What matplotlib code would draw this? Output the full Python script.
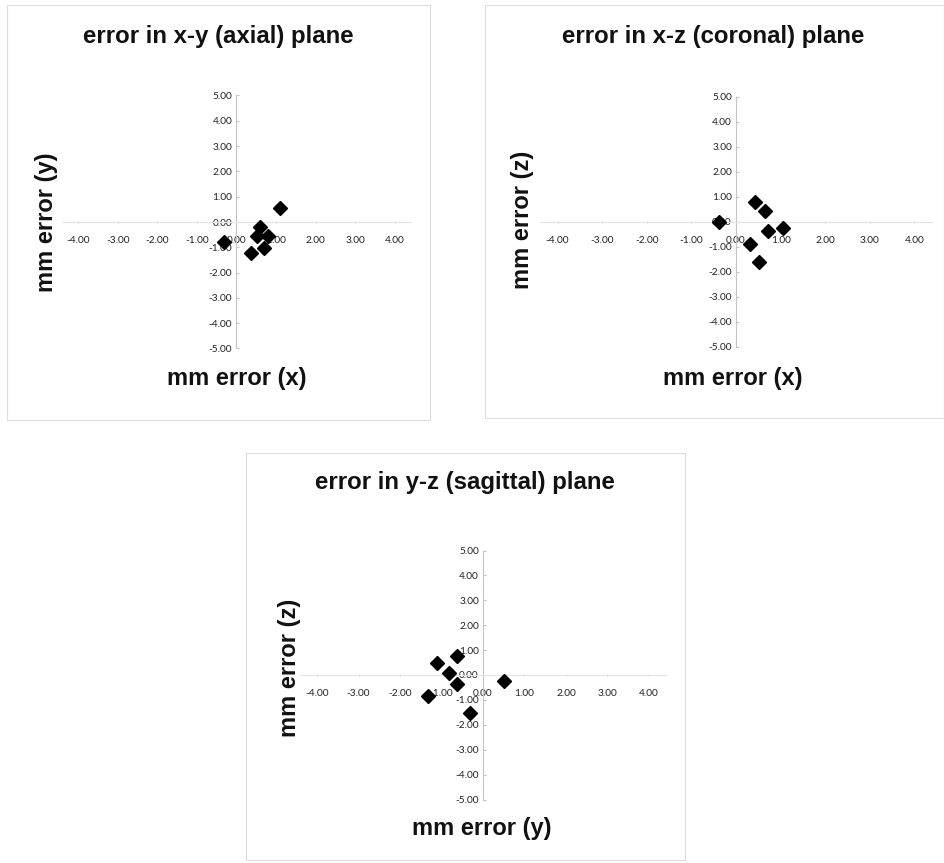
import matplotlib
matplotlib.use("Agg")
import matplotlib.pyplot as plt
from matplotlib.patches import Rectangle

# ---- data (mm errors) ----
axial_x = [1.10, 0.59, 0.51, 0.80, 0.69, 0.37, -0.32]
axial_y = [0.57, -0.19, -0.55, -0.55, -1.04, -1.24, -0.78]

coronal_x = [-0.37, 0.43, 0.65, 0.72, 1.05, 0.31, 0.52]
coronal_z = [0.00, 0.78, 0.43, -0.36, -0.25, -0.90, -1.60]

sagittal_y = [-1.12, -0.63, -0.81, -0.63, -1.33, -0.31, 0.51]
sagittal_z = [0.49, 0.76, 0.07, -0.36, -0.84, -1.54, -0.23]

x_ticks = [-4, -3, -2, -1, 0, 1, 2, 3, 4]
y_ticks = [-5, -4, -3, -2, -1, 0, 1, 2, 3, 4, 5]

titles = ["error in x-y (axial) plane", "error in x-z (coronal) plane",
          "error in y-z (sagittal) plane"]
xlabels = ["mm error (x)", "mm error (x)", "mm error (y)"]
ylabels = ["mm error (y)", "mm error (z)", "mm error (z)"]

W, H = 945, 863
fig = plt.figure(figsize=(W / 100, H / 100), dpi=100)
fig.patch.set_facecolor("white")


def fx(px):
    return px / W


def fy(py):
    return 1 - py / H


# panel boxes (left, top, right, bottom) in pixels
boxes = [(7, 5, 430, 420), (485, 5, 944, 418), (246, 453, 685, 860)]
for (l, t, r, b) in boxes:
    fig.patches.append(Rectangle((fx(l), fy(b)), fx(r - l), (b - t) / H,
                                 transform=fig.transFigure, fill=False,
                                 edgecolor="#dcdcdc", linewidth=0.8))

# axes rectangles in pixels: (x0 px, px per unit, y0 px, px per unit)
geoms = [(236.5, 39.6, 222.0, 25.3), (736.0, 44.6, 221.7, 25.0),
         (483.0, 41.5, 675.0, 24.9)]
XL = 4.4
datasets = [(axial_x, axial_y), (coronal_x, coronal_z), (sagittal_y, sagittal_z)]
title_pos = [(218, 37), (713, 37), (465, 483)]
xlabel_pos = [(237, 378), (733, 378), (482, 828)]
ylabel_pos = [(47, 222), (523, 220), (290, 668)]

for i, ((xs, ys), (x0, sx, y0, sy)) in enumerate(zip(datasets, geoms)):
    left = x0 - XL * sx
    right = x0 + XL * sx
    top = y0 - 5 * sy
    bottom = y0 + 5 * sy
    ax = fig.add_axes([fx(left), fy(bottom), (right - left) / W, (bottom - top) / H])
    ax.set_xlim(-XL, XL)
    ax.set_ylim(-5, 5)
    ax.set_facecolor("none")
    for s in ["top", "right"]:
        ax.spines[s].set_visible(False)
    ax.spines["left"].set_position(("data", 0))
    ax.spines["bottom"].set_position(("data", 0))
    ax.spines["left"].set_color("#c4c4c4")
    ax.spines["left"].set_linewidth(0.8)
    ax.spines["bottom"].set_color("#e4e4e4")
    ax.spines["bottom"].set_linewidth(0.8)
    ax.set_xticks(x_ticks)
    ax.set_yticks(y_ticks)
    ax.set_xticklabels([f"{v:.2f}" for v in x_ticks], family="Lato", fontsize=7.3,
                       color="#222222")
    ax.set_yticklabels([f"{v:.2f}" for v in y_ticks], family="Lato", fontsize=7.3,
                       color="#222222")
    ax.tick_params(axis="x", length=2, color="#d0d0d0", pad=9, direction="inout")
    ax.tick_params(axis="y", length=2, color="#c4c4c4", pad=3, direction="in")
    ax.plot(xs, ys, linestyle="none", marker="D", markersize=7, color="black",
            clip_on=False, zorder=5)

    tx, ty = title_pos[i]
    fig.text(fx(tx), fy(ty), titles[i], ha="center", va="center",
             family="Liberation Sans", weight="bold", fontsize=17.3, color="#111111")
    lx, ly = xlabel_pos[i]
    fig.text(fx(lx), fy(ly), xlabels[i], ha="center", va="center",
             family="Liberation Sans", weight="bold", fontsize=17, color="#111111")
    vx, vy = ylabel_pos[i]
    fig.text(fx(vx), fy(vy), ylabels[i], ha="center", va="center", rotation=90,
             family="Liberation Sans", weight="bold", fontsize=17, color="#111111")

fig.savefig("out.png", dpi=100, facecolor="white")
